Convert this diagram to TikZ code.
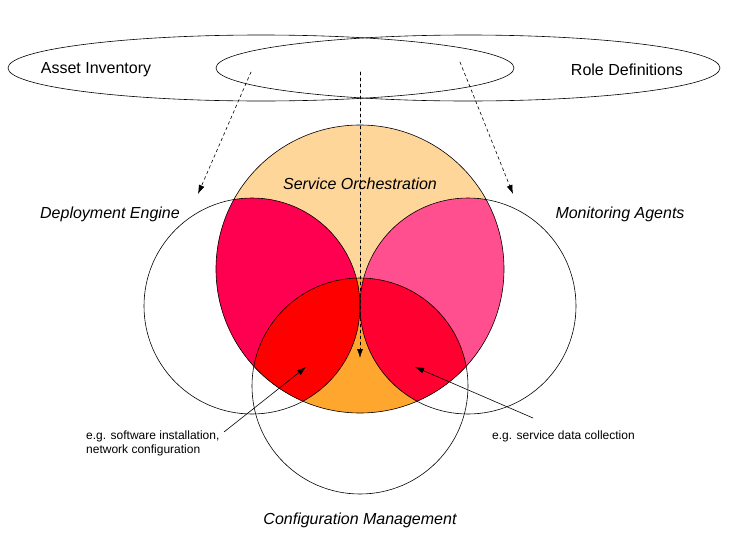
\documentclass[tikz,border=0pt]{standalone}
\usepackage{fontspec}
\setmainfont{Liberation Sans}
\usepackage{tikz}
\usetikzlibrary{arrows.meta,calc,positioning}

\definecolor{orchFill}{HTML}{FFD699}
\definecolor{deployFill}{HTML}{FF0050}
\definecolor{monitorFill}{HTML}{FF4F8F}
\definecolor{configFill}{HTML}{FFA62F}
\definecolor{deployConfFill}{HTML}{FF0000}
\definecolor{monitorConfFill}{HTML}{FF0030}

\begin{document}
\begin{tikzpicture}[
  x=1pt, y=-1pt,
  font=\fontsize{16}{18}\selectfont,
  line cap=round,
  ring/.style={draw=black, line width=0.6pt},
  arrDash/.style={-{Latex[length=9pt,width=6pt]}, dashed, line width=0.6pt},
  arrNote/.style={-{Latex[length=9pt,width=6pt]}, line width=0.6pt},
  setlbl/.style={font=\fontsize{16}{18}\selectfont\itshape, inner sep=0pt},
  srclbl/.style={font=\fontsize{16}{18}\selectfont, inner sep=0pt},
  note/.style={font=\fontsize{12}{14}\selectfont, align=left, inner sep=0pt, anchor=west},
]
  \useasboundingbox (0,0) rectangle (756,552);
  % Circle centres
  \coordinate (orch) at (360,269);
  \coordinate (deploy) at (252,306);
  \coordinate (monitor) at (468,306);
  \coordinate (config) at (360,386);
  % Base fill of the orchestration circle
  \fill[orchFill] (orch) circle[radius=144pt];
  % Pairwise overlaps inside the orchestration circle
  \begin{scope}
    \clip (orch) circle[radius=144pt];
    \fill[deployFill] (deploy) circle[radius=108pt];
    \fill[monitorFill] (monitor) circle[radius=108pt];
    \fill[configFill] (config) circle[radius=108pt];
    % Triple overlaps
    \begin{scope}
      \clip (config) circle[radius=108pt];
      \fill[deployConfFill] (deploy) circle[radius=108pt];
      \fill[monitorConfFill] (monitor) circle[radius=108pt];
    \end{scope}
  \end{scope}
  % Outlines
  \draw[ring] (orch) circle[radius=144pt];
  \draw[ring] (deploy) circle[radius=108pt];
  \draw[ring] (monitor) circle[radius=108pt];
  \draw[ring] (config) circle[radius=108pt];
  \draw[ring] (261,68) ellipse[x radius=253pt, y radius=33pt];
  \draw[ring] (468,68) ellipse[x radius=252pt, y radius=33pt];
  % Labels
  \node[srclbl] (asset) at (96,70) {Asset Inventory};
  \node[srclbl] (roles) at (627,70) {Role Definitions};
  \node[setlbl] (orchLbl) at (360,184) {Service Orchestration};
  \node[setlbl] (deployLbl) at (110,214) {Deployment Engine};
  \node[setlbl] (monitorLbl) at (620,214) {Monitoring Agents};
  \node[setlbl] (configLbl) at (360,520) {Configuration Management};
  \node[note] (noteL) at (86,443) {e.g. software installation,\\network configuration};
  \node[note] (noteR) at (492,436) {e.g. service data collection};
  % Arrow end points
  \coordinate (srcL) at (251,72);
  \coordinate (srcM) at (360,72);
  \coordinate (srcR) at (460,62);
  \coordinate (tipL) at (198,194);
  \coordinate (tipM) at (360,358);
  \coordinate (tipR) at (513,194);
  \coordinate (tailL) at (224,432);
  \coordinate (tipDC) at (306,367);
  \coordinate (tailR) at (533,418);
  \coordinate (tipMC) at (415,367);
  % Arrows
  \draw[arrDash] (srcL) -- (tipL);
  \draw[arrDash] (srcM) -- (tipM);
  \draw[arrDash] (srcR) -- (tipR);
  \draw[arrNote] (tailL) -- (tipDC);
  \draw[arrNote] (tailR) -- (tipMC);
\end{tikzpicture}
\end{document}
